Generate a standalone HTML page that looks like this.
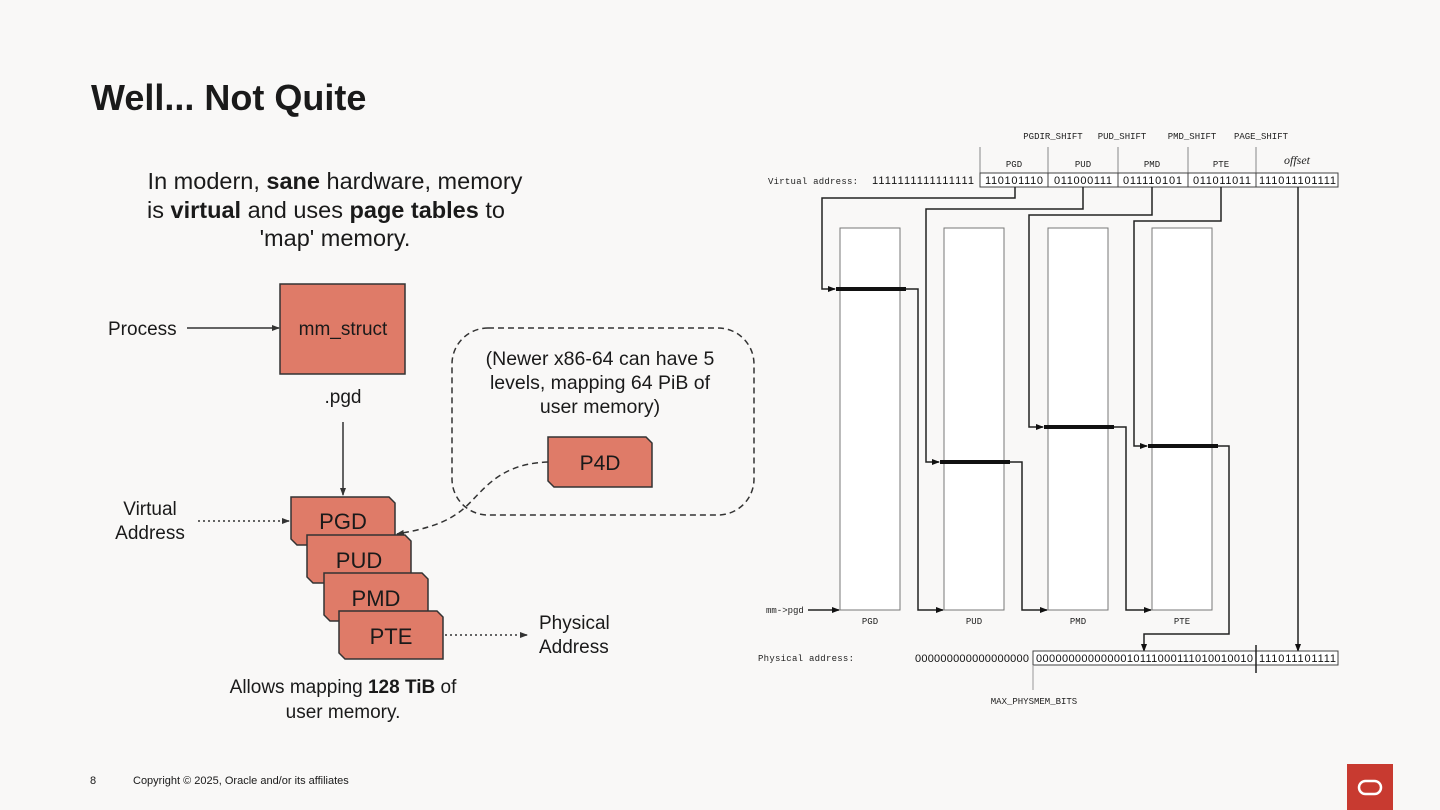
<!DOCTYPE html>
<html><head><meta charset="utf-8"><style>
html,body{margin:0;padding:0;background:#f9f8f7;}
svg{display:block;}
.s{font-family:"Liberation Sans",sans-serif;fill:#1a1a1a;}
.m{font-family:"Liberation Mono",monospace;font-size:9px;fill:#222;}
.b{font-family:"Liberation Sans",sans-serif;font-size:11px;fill:#111;}
</style></head><body>
<svg width="1440" height="810" viewBox="0 0 1440 810" xmlns="http://www.w3.org/2000/svg">
<defs>
<marker id="a" markerWidth="8" markerHeight="8" refX="7" refY="4" orient="auto" markerUnits="userSpaceOnUse"><path d="M0,1 L8,4 L0,7z" fill="#333"/></marker>
<marker id="k" markerWidth="8" markerHeight="8" refX="7" refY="4" orient="auto" markerUnits="userSpaceOnUse"><path d="M0,1 L8,4 L0,7z" fill="#111"/></marker>
</defs>
<rect width="1440" height="810" fill="#f9f8f7"/>
<text x="91" y="110" class="s" font-size="36" font-weight="bold" fill="#000">Well... Not Quite</text>
<g class="s" font-size="23.5" text-anchor="middle" fill="#2a2a2a">
<text x="335" y="189">In modern, <tspan font-weight="bold">sane</tspan> hardware, memory</text>
<text x="326" y="218">is <tspan font-weight="bold">virtual</tspan> and uses <tspan font-weight="bold">page tables</tspan> to</text>
<text x="335" y="246">'map' memory.</text>
</g>
<text x="108" y="335" class="s" font-size="19">Process</text>
<line x1="187" y1="328" x2="279" y2="328" stroke="#333" stroke-width="1.5" marker-end="url(#a)"/>
<rect x="280" y="284" width="125" height="90" fill="#df7b68" stroke="#333" stroke-width="1.5"/>
<text x="343" y="335" class="s" font-size="19" text-anchor="middle">mm_struct</text>
<text x="343" y="403" class="s" font-size="19" text-anchor="middle">.pgd</text>
<line x1="343" y1="422" x2="343" y2="495" stroke="#333" stroke-width="1.5" marker-end="url(#a)"/>
<rect x="452" y="328" width="302" height="187" rx="36" fill="none" stroke="#333" stroke-width="1.5" stroke-dasharray="6,4"/>
<g class="s" font-size="19.5" text-anchor="middle">
<text x="600" y="365">(Newer x86-64 can have 5</text>
<text x="600" y="389">levels, mapping 64 PiB of</text>
<text x="600" y="413">user memory)</text>
</g>
<path d="M548,437 H646 L652,443 V487 H554 L548,481 Z" fill="#df7b68" stroke="#333" stroke-width="1.5"/>
<text x="600" y="470" class="s" font-size="21" text-anchor="middle">P4D</text>
<g class="s" font-size="19" text-anchor="middle"><text x="150" y="515">Virtual</text><text x="150" y="539">Address</text></g>
<line x1="198" y1="521" x2="289" y2="521" stroke="#333" stroke-width="1.5" stroke-dasharray="2,3" marker-end="url(#a)"/>
<g stroke="#333" stroke-width="1.5" fill="#df7b68">
<path d="M291,497 H389 L395,503 V545 H297 L291,539 Z"/>
<path d="M307,535 H405 L411,541 V583 H313 L307,577 Z"/>
<path d="M324,573 H422 L428,579 V621 H330 L324,615 Z"/>
<path d="M339,611 H437 L443,617 V659 H345 L339,653 Z"/>
</g>
<g class="s" font-size="22" text-anchor="middle">
<text x="343" y="529">PGD</text><text x="359" y="568">PUD</text><text x="376" y="606">PMD</text><text x="391" y="644">PTE</text>
</g>
<path d="M548,462 C490,464 480,500 455,515 C440,525 420,530 397,534" fill="none" stroke="#333" stroke-width="1.5" stroke-dasharray="6,4" marker-end="url(#a)"/>
<line x1="445" y1="635" x2="527" y2="635" stroke="#333" stroke-width="1.5" stroke-dasharray="2,3" marker-end="url(#a)"/>
<g class="s" font-size="19"><text x="539" y="629">Physical</text><text x="539" y="653">Address</text></g>
<g class="s" font-size="19" text-anchor="middle">
<text x="343" y="693">Allows mapping <tspan font-weight="bold">128 TiB</tspan> of</text>
<text x="343" y="718">user memory.</text>
</g>
<text x="90" y="784" class="s" font-size="11" fill="#444">8</text>
<text x="133" y="784" class="s" font-size="11" fill="#444">Copyright © 2025, Oracle and/or its affiliates</text>
<rect x="1347" y="764" width="46" height="46" fill="#c83a30"/>
<rect x="1359" y="781" width="22" height="13" rx="6.5" fill="none" stroke="#fff" stroke-width="2.5"/>

<!-- right diagram -->
<g class="m" text-anchor="middle">
<text x="1053" y="139">PGDIR_SHIFT</text><text x="1122" y="139">PUD_SHIFT</text><text x="1192" y="139">PMD_SHIFT</text><text x="1261" y="139">PAGE_SHIFT</text>
<text x="1014" y="167">PGD</text><text x="1083" y="167">PUD</text><text x="1152" y="167">PMD</text><text x="1221" y="167">PTE</text>
</g>
<text x="1297" y="164" font-family="Liberation Serif,serif" font-style="italic" font-size="12" text-anchor="middle" fill="#222">offset</text>
<g stroke="#888" stroke-width="1"><line x1="980" y1="147" x2="980" y2="173"/><line x1="1048" y1="147" x2="1048" y2="173"/><line x1="1118" y1="147" x2="1118" y2="173"/><line x1="1188" y1="147" x2="1188" y2="173"/><line x1="1256" y1="147" x2="1256" y2="173"/></g>
<text x="768" y="184" class="m" textLength="90">Virtual address:</text>
<text x="872" y="184" class="b" fill="#999" textLength="102">1111111111111111</text>
<rect x="980" y="173" width="358" height="14" fill="#fff" stroke="#444"/>
<g stroke="#444"><line x1="1048" y1="173" x2="1048" y2="187"/><line x1="1118" y1="173" x2="1118" y2="187"/><line x1="1188" y1="173" x2="1188" y2="187"/><line x1="1256" y1="173" x2="1256" y2="187"/></g>
<g class="b">
<text x="985" y="184" textLength="58">110101110</text><text x="1054" y="184" textLength="58">011000111</text><text x="1123" y="184" textLength="59">011110101</text><text x="1193" y="184" textLength="58">011011011</text><text x="1259" y="184" textLength="77">111011101111</text></g>
<g fill="#fff" stroke="#777"><rect x="840" y="228" width="60" height="382"/><rect x="944" y="228" width="60" height="382"/><rect x="1048" y="228" width="60" height="382"/><rect x="1152" y="228" width="60" height="382"/></g>
<g stroke="#111" stroke-width="4"><line x1="836" y1="289" x2="906" y2="289"/><line x1="940" y1="462" x2="1010" y2="462"/><line x1="1044" y1="427" x2="1114" y2="427"/><line x1="1148" y1="446" x2="1218" y2="446"/></g>
<g fill="none" stroke="#222" stroke-width="1.5">
<path d="M1015,187 V198 H822 V289 H835" marker-end="url(#k)"/>
<path d="M1083,187 V209 H926 V462 H939" marker-end="url(#k)"/>
<path d="M1152,187 V215 H1029 V427 H1043" marker-end="url(#k)"/>
<path d="M1221,187 V221 H1134 V446 H1147" marker-end="url(#k)"/>
<path d="M906,289 H918 V610 H943" marker-end="url(#k)"/>
<path d="M1010,462 H1022 V610 H1047" marker-end="url(#k)"/>
<path d="M1114,427 H1126 V610 H1151" marker-end="url(#k)"/>
<path d="M1218,446 H1229 V634 H1144 V651" marker-end="url(#k)"/>
<path d="M1298,187 V651" marker-end="url(#k)"/>
<path d="M808,610 H839" marker-end="url(#k)"/>
</g>
<text x="766" y="613" class="m">mm-&gt;pgd</text>
<g class="m" text-anchor="middle"><text x="870" y="624">PGD</text><text x="974" y="624">PUD</text><text x="1078" y="624">PMD</text><text x="1182" y="624">PTE</text></g>
<text x="758" y="661" class="m" textLength="96">Physical address:</text>
<text x="915" y="662" class="b" fill="#999" textLength="114">000000000000000000</text>
<rect x="1033" y="651" width="305" height="14" fill="#fff" stroke="#444"/>
<line x1="1256" y1="645" x2="1256" y2="673" stroke="#222" stroke-width="1.5"/>
<text x="1036" y="662" class="b" textLength="217">0000000000000010111000111010010010</text>
<text x="1259" y="662" class="b" textLength="77">111011101111</text>
<line x1="1033" y1="665" x2="1033" y2="690" stroke="#999"/>
<text x="1034" y="704" class="m" text-anchor="middle">MAX_PHYSMEM_BITS</text>
</svg>
</body></html>
